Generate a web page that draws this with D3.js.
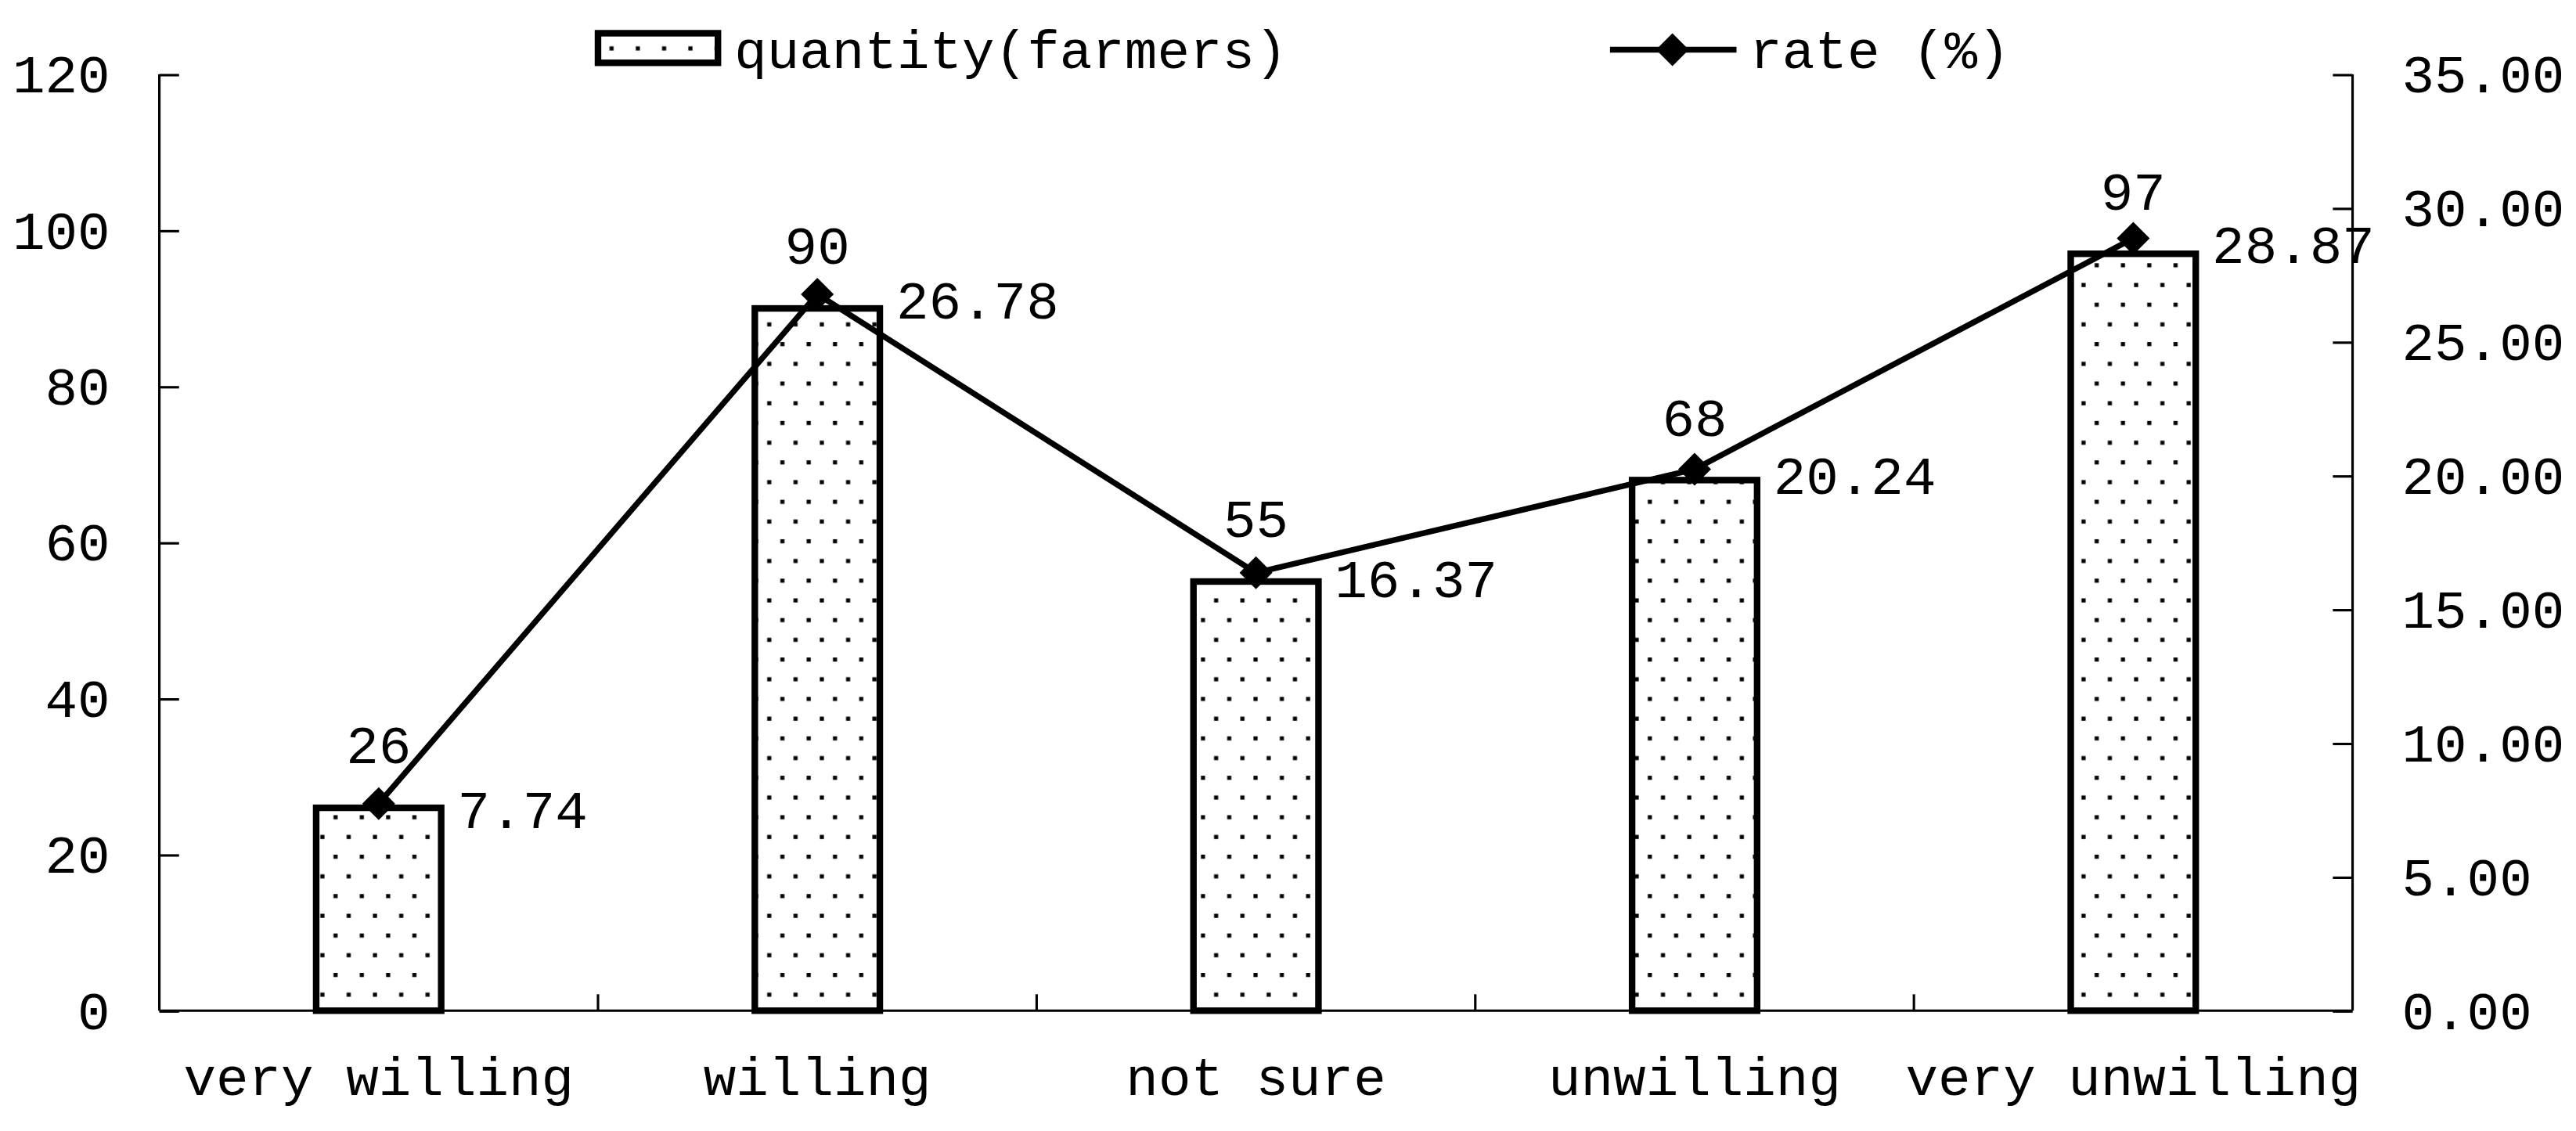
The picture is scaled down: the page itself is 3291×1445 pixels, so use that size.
<!DOCTYPE html>
<html>
<head>
<meta charset="UTF-8">
<script src="https://d3js.org/d3.v7.min.js"></script>
<style>
body { margin: 0; background: #fff; }
text { font-family: "Liberation Mono", "DejaVu Sans Mono", monospace; fill: #000; }
</style>
</head>
<body>
<svg id="chart" width="3291" height="1445" viewBox="0 0 1568 688"></svg>
<script>
const categories = ["very willing", "willing", "not sure", "unwilling", "very unwilling"];
const quantity = [26, 90, 55, 68, 97];
const rate = [7.74, 26.78, 16.37, 20.24, 28.87];
const leftTicks = [0, 20, 40, 60, 80, 100, 120];
const rightTicks = [0, 5, 10, 15, 20, 25, 30, 35];

const margin = { left: 97, right: 136, top: 45, bottom: 73 };
const W = 1568, H = 688, fs = 33;
const svg = d3.select("#chart");

const defs = svg.append("defs");
const pat = defs.append("pattern").attr("id", "dots").attr("patternUnits", "userSpaceOnUse")
  .attr("width", 16).attr("height", 24);
pat.append("rect").attr("width", 16).attr("height", 24).attr("fill", "#fff");
pat.append("rect").attr("x", 3).attr("y", 4).attr("width", 2.5).attr("height", 2.5).attr("fill", "#000");
pat.append("rect").attr("x", 11).attr("y", 16).attr("width", 2.5).attr("height", 2.5).attr("fill", "#000");

const x = d3.scaleBand().domain(categories).range([margin.left, W - margin.right]);
const yL = d3.scaleLinear().domain([0, 120]).range([H - margin.bottom, margin.top]);
const yR = d3.scaleLinear().domain([0, 35]).range([H - margin.bottom, margin.top]);
const bw = x.bandwidth() * 0.285;
const cx = d => x(d) + x.bandwidth() / 2;

// axes
const gl = svg.append("g").attr("transform", `translate(${margin.left},0)`)
  .call(d3.axisLeft(yL).tickValues(leftTicks).tickSize(-12).tickPadding(30));
const gr = svg.append("g").attr("transform", `translate(${W - margin.right},0)`)
  .call(d3.axisRight(yR).tickValues(rightTicks).tickSize(-12).tickPadding(30).tickFormat(d3.format(".2f")));
const gb = svg.append("g").attr("transform", `translate(0,${H - margin.bottom})`)
  .call(d3.axisBottom(x).tickSize(-10).tickPadding(28).tickFormat(d => d));
gb.selectAll(".tick line").attr("transform", d => `translate(${x.bandwidth() / 2},0)`);
gb.selectAll(".tick").filter((d, i) => i === categories.length - 1).select("line").remove();
[gl, gr, gb].forEach(g => {
  g.selectAll(".domain").attr("stroke", "#000").attr("stroke-width", 1.5);
  g.selectAll("line").attr("stroke", "#000").attr("stroke-width", 1.5);
  g.selectAll("text").attr("font-size", fs).attr("font-family", "Liberation Mono");
});
gl.select(".domain").attr("d", `M0,${yL(120)}V${yL(0)}`);
gr.select(".domain").attr("d", `M0,${yR(35)}V${yR(0)}`);
gb.select(".domain").attr("d", `M${margin.left},0H${W - margin.right}`);

// bars
svg.selectAll(".bar").data(categories).join("rect")
  .attr("x", d => cx(d) - bw / 2).attr("width", bw)
  .attr("y", (d, i) => yL(quantity[i])).attr("height", (d, i) => yL(0) - yL(quantity[i]))
  .attr("fill", "url(#dots)").attr("stroke", "#000").attr("stroke-width", 4);

svg.selectAll(".qlab").data(categories).join("text")
  .attr("x", cx).attr("y", (d, i) => yL(quantity[i]) - 27)
  .attr("text-anchor", "middle").attr("font-size", fs).text((d, i) => quantity[i]);

// line
const line = d3.line().x(d => cx(d)).y((d, i) => yR(rate[i]));
svg.append("path").datum(categories).attr("d", line)
  .attr("fill", "none").attr("stroke", "#000").attr("stroke-width", 3.5);
const diamond = d3.symbol().type(d3.symbolSquare).size(200);
svg.selectAll(".pt").data(categories).join("path")
  .attr("d", diamond).attr("transform", (d, i) => `translate(${cx(d)},${yR(rate[i])}) rotate(45)`).attr("fill", "#000");
svg.selectAll(".rlab").data(categories).join("text")
  .attr("x", d => cx(d) + 48).attr("y", (d, i) => yR(rate[i]) + 15)
  .attr("font-size", fs).text((d, i) => rate[i].toFixed(2));

// legend
const lg = svg.append("g");
lg.append("rect").attr("x", 364).attr("y", 20).attr("width", 73).attr("height", 18)
  .attr("fill", "url(#dots)").attr("stroke", "#000").attr("stroke-width", 4);
lg.append("text").attr("x", 447).attr("y", 41).attr("font-size", fs).text("quantity(farmers)");
lg.append("line").attr("x1", 980).attr("x2", 1057).attr("y1", 30).attr("y2", 30)
  .attr("stroke", "#000").attr("stroke-width", 3.5);
lg.append("path").attr("d", diamond).attr("transform", "translate(1018,30) rotate(45)").attr("fill", "#000");
lg.append("text").attr("x", 1065).attr("y", 41).attr("font-size", fs).text("rate (%)");
</script>
</body>
</html>
